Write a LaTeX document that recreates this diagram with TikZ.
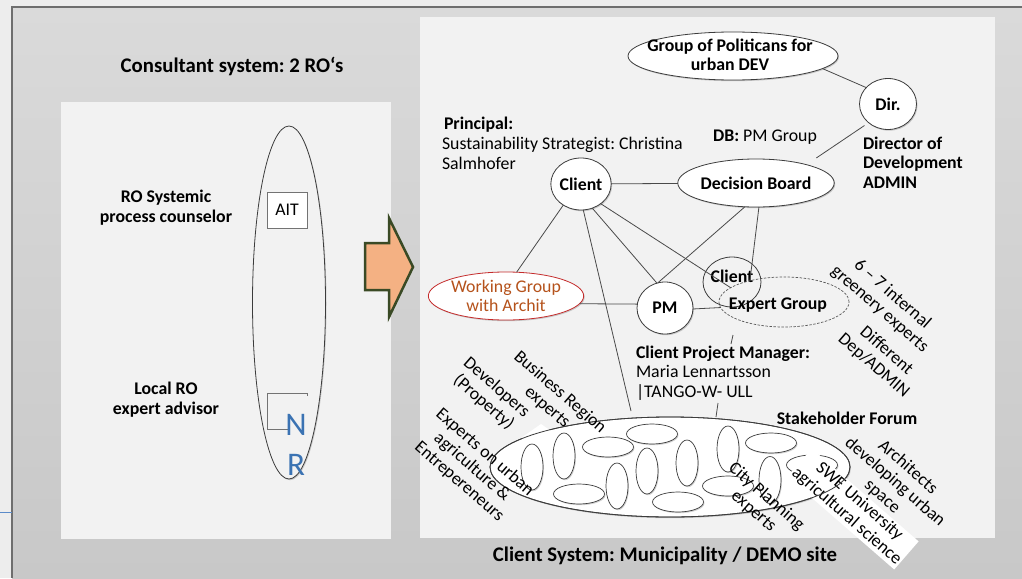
\documentclass[tikz,border=0pt]{standalone}
\usepackage{fontspec}
\setmainfont{Carlito}
\usetikzlibrary{shapes.geometric,shadows}
\definecolor{pagebg}{HTML}{EDEDED}
\definecolor{panelbg}{HTML}{F2F2F2}
\definecolor{frametop}{HTML}{DADADA}
\definecolor{framebot}{HTML}{C8C8C8}
\definecolor{framedraw}{HTML}{6E6E6E}
\definecolor{ln}{HTML}{4A4A4A}
\definecolor{bd}{HTML}{3C3C3C}
\definecolor{wgred}{HTML}{C42B2B}
\definecolor{wgtext}{HTML}{B5521B}
\definecolor{nrblue}{HTML}{3B73B3}
\definecolor{arrowfill}{HTML}{F4B183}
\definecolor{arrowdraw}{HTML}{3A4A25}
\definecolor{blueline}{HTML}{5B8BC9}
\newcommand{\fsn}{\fontsize{17.8}{19.5}\selectfont}
\newcommand{\fsh}{\fontsize{20.8}{24}\selectfont}
\frenchspacing
\begin{document}
\begin{tikzpicture}[x=1pt,y=-1pt,
  every node/.style={inner sep=0pt,outer sep=0pt},
  shad/.style={drop shadow={shadow xshift=1pt,shadow yshift=-1.2pt,opacity=.18,fill=black}},
  bub/.style={ellipse, draw=bd, line width=0.8pt, fill=white, shad, font=\fsn\bfseries, align=center},
  conn/.style={draw=ln, line width=0.8pt},
  lbl/.style={font=\fsn, align=left},
  blbl/.style={font=\fsn\bfseries, align=center},
  rot/.style={font=\fsn, align=center, rotate=-41},
  sm/.style={ellipse, draw=bd, line width=0.7pt, fill=white, shad},
  smv/.style={sm, minimum width=22pt, minimum height=46pt},
  smh/.style={sm, minimum width=51pt, minimum height=20pt}]
\useasboundingbox (0,0) rectangle (1022,578);
\fill[pagebg] (0,0) rectangle (1022,578);
\shade[top color=frametop, bottom color=framebot] (12,7) rectangle (1022,578);
\draw[framedraw, line width=1.5pt] (12,578) -- (12,7) -- (1022,7);
\draw[blueline, line width=1pt] (0,512.5) -- (12,512.5);
% panels
\fill[panelbg] (61,102) rectangle (391,539);
\fill[panelbg] (420,17) rectangle (995,538);
% left panel
\node (cst) [font=\fsh\bfseries] at (232,66) {Consultant system: 2 RO‘s};
\node (ros) [blbl] at (166,207.5) {RO Systemic\\process counselor};
\node (lro) [blbl] at (166,399.5) {Local RO\\expert advisor};
\node (tall) [ellipse, draw=bd, fill=panelbg, line width=0.8pt, minimum width=73pt, minimum height=353pt, shad] at (289,302.5) {};
\node (ait) [draw=black!55, fill=white, line width=0.8pt, minimum width=40pt, minimum height=36pt, font=\fsn, shad] at (287,210) {AIT};
\draw[black!55, line width=0.8pt] (307,396) -- (307,393) -- (267,393) -- (267,429) -- (290,429);
\node (nr) [font=\fontsize{33}{40}\selectfont, text=nrblue, align=center] at (296,445) {N\\R};
% arrow
\filldraw[fill=arrowfill, draw=arrowdraw, line width=2.5pt, line join=miter] (365,243) -- (389,243) -- (389,218) -- (413,267) -- (389,317) -- (389,290) -- (365,290) -- cycle;
% right panel nodes
\node (pol) [bub, minimum width=210pt, minimum height=48pt] at (733,56) {};
\node (polt) [blbl] at (730,55) {Group of Politicans for\\urban DEV};
\node (dir) [bub, minimum width=57pt, minimum height=51pt] at (888,104) {Dir.};
\node (dbl) [lbl] at (765,137) {\textbf{DB:} PM Group};
\node (dird) [lbl, font=\fsn\bfseries, anchor=west] at (863,162.5) {Director of\\Development\\ADMIN};
\node (prin) [lbl, font=\fsn\bfseries, anchor=west] at (444,125) {Principal:};
\node (sust) [lbl, anchor=west] at (442,153.5) {Sustainability Strategist: Christina\\Salmhofer};
\node (db) [bub, minimum width=156pt, minimum height=48pt] at (756,183) {Decision Board};
\node (cl1) [bub, minimum width=56pt, minimum height=52pt] at (581,184) {Client};
\node (wg) [bub, draw=wgred, minimum width=155pt, minimum height=48pt, font=\fsn, text=wgtext] at (506,296) {Working Group\\with Archit};
\node (pm) [bub, minimum width=56pt, minimum height=52pt] at (665,308) {PM};
\node (cl2) [ellipse, draw=bd, line width=0.8pt, minimum width=58pt, minimum height=50pt] at (732,282) {};
\node (cl2t) [blbl] at (732,276) {Client};
\node (eg) [ellipse, draw=black!65, line width=0.7pt, dash pattern=on 2.5pt off 1.5pt, minimum width=130pt, minimum height=50pt] at (784,302) {};
\node (egt) [blbl] at (778,305) {Expert Group};
\node (cpm) [lbl, anchor=west] at (636,373) {\textbf{Client Project Manager:}\\Maria Lennartsson\\|TANGO-W- ULL};
% connectors
\coordinate (sfc) at (631,411);
\draw[conn] (pol.352) -- (dir.143);
\draw[conn, shorten <=5pt, shorten >=12pt] (dir.224) -- (db.20);
\draw[conn] (cl1) -- (db);
\draw[conn] (cl1.230) -- (wg.66);
\draw[conn] (cl1.295) -- (pm.108);
\draw[conn] (cl1.315) -- (eg.165);
\draw[conn] (cl1.275) -- (sfc);
\draw[conn] (db.245) -- (pm.106);
\draw[conn] (db.277) -- (eg.148);
\draw[conn] (wg.354) -- (pm.172);
\draw[conn] (pm.358) -- (eg.185);
\coordinate (k1a) at (733,335); \coordinate (k1b) at (731,344);
\draw[conn] (k1a) -- (k1b);
\coordinate (k2a) at (718,403); \coordinate (k2b) at (716,417);
\draw[conn] (k2a) -- (k2b);
% stakeholder forum
\node (sf) [ellipse, draw=bd, line width=0.8pt, fill=white, minimum width=360pt, minimum height=100pt, shad] at (670,467) {};
\fill[white] (521,438) -- (537,446) -- (551,431) -- (541,424) -- cycle;
\node (e1) [smv] at (532,467) {};
\node (e2) [smv] at (564,456) {};
\node (e3) [smh] at (608,447) {};
\node (e4) [smh] at (652,434) {};
\node (e5) [smh] at (579,494) {};
\node (e6) [smv] at (617,486) {};
\node (e7) [smv] at (647,471) {};
\node (e8) [smh] at (678,502) {};
\node (e9) [smv] at (687,463) {};
\node (e10) [smv] at (728,449) {};
\node (e11) [smh] at (728,486) {};
\node (e12) [smh] at (771,443) {};
\node (e13) [smv, minimum height=47pt] at (770,480) {};
\node (e14) [smh] at (812,465) {};
\node (te) [rot, fill=white, inner sep=1.2pt] at (853,509) {SWE University\\agricultural science};
\draw[bd, line width=0.8pt] (sf.center) ellipse [x radius=180pt, y radius=50pt];
\node (sft) [blbl] at (847,418) {Stakeholder Forum};
% rotated labels
\node (ta) [rot] at (553.5,400) {Business Region\\experts};
\node (tb) [rot] at (490,395) {Developers\\(Property)};
\node (tc) [rot] at (472,467) {Experts on urban\\agriculture \&\\Entrepereneurs};
\node (td) [rot] at (895,482) {Architects\\developing urban\\space};
\node (tf) [rot] at (760,504) {City Planning\\experts};
\node (tg) [rot] at (886,302) {6 – 7 internal\\greenery experts};
\node (th) [rot] at (880,358) {Different\\Dep/ADMIN};
\node (cs) [font=\fsh\bfseries] at (665,556) {Client System: Municipality / DEMO site};
\end{tikzpicture}
\end{document}
